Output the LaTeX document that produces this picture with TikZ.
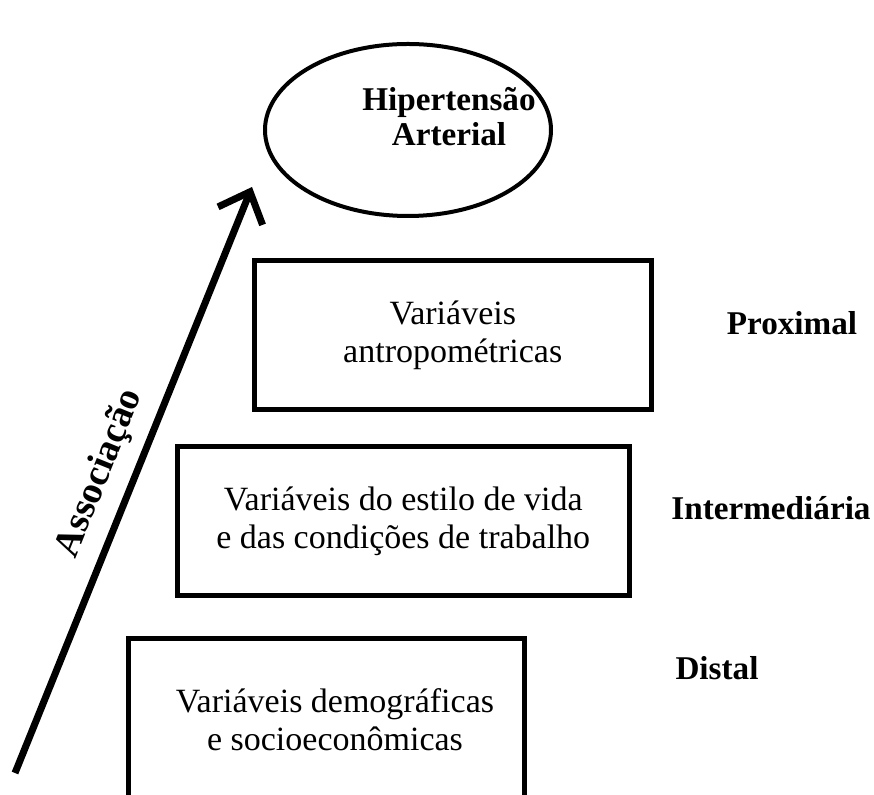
\documentclass[tikz,border=0pt]{standalone}
\usepackage{fontspec}
\setmainfont{Liberation Serif}
\usetikzlibrary{shapes.geometric,arrows.meta}

\begin{document}
\begin{tikzpicture}[x=0.5pt, y=-0.5pt,
		nivel/.style={draw, line width=2.5pt, inner sep=0pt},
		texto/.style={font=\fontsize{17}{19}\selectfont, align=center},
		rotulo/.style={font=\fontsize{16.6}{19}\selectfont\bfseries, anchor=base}]
	\useasboundingbox	(0, 0) rectangle (874, 795);
	\clip				(0, 0) rectangle (874, 795);

	\node[draw, ellipse, line width=2pt, minimum width=143pt, minimum height=86pt]	(hipert) at (408, 130) {};
	\node[texto, font=\fontsize{16.6}{17.5}\selectfont\bfseries]	(hiperttxt) at (449, 117) {Hipertensão\\Arterial};

	\node[nivel, texto, minimum width=198.25pt, minimum height=74.5pt]	(antrop) at (452.75, 335.5) {Variáveis\\antropométricas};
	\node[nivel, texto, minimum width=226.25pt, minimum height=74.5pt]	(estilo) at (403.25, 521.5) {Variáveis do estilo de vida\\e das condições de trabalho};
	\node[nivel, minimum width=198.35pt, minimum height=100pt]		(demog) at (326.35, 738.3) {};
	\node[texto]	(demogtxt) at (335, 720) {Variáveis demográficas\\e socioeconômicas};

	\node[rotulo]	(proximal) at (792, 335) {Proximal};
	\node[rotulo]	(interm)   at (771, 520) {Intermediária};
	\node[rotulo]	(distal)   at (717, 680) {Distal};

	\coordinate (base) at (15, 773);
	\coordinate (topo) at (252, 187);
	\draw[line width=3.5pt, -{Straight Barb[length=13pt, width=24pt]}]	(base) to node[sloped, pos=0.49, above=3pt, font=\fontsize{19}{21}\selectfont\bfseries] (assoc) {Associação} (topo);
\end{tikzpicture}
\end{document}
